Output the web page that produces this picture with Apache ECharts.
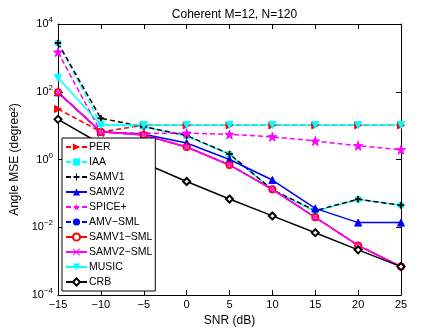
<!DOCTYPE html>
<html><head><meta charset="utf-8">
<script src="https://cdn.jsdelivr.net/npm/echarts@6/dist/echarts.min.js"></script>
<style>html,body{margin:0;padding:0;background:#fff}#c{width:443px;height:332px}</style>
</head><body><div id="c"></div>
<script>
var snr = [-15, -10, -5, 0, 5, 10, 15, 20, 25];
var PER = [31, 6.6, 10.2, 10.2, 10.2, 10.2, 10.2, 10.2, 10.2];
var IAA = [2750, 11, 9.3, 4.9, 1.42, 0.126, 0.029, 0.067, 0.0445];
var SAMV1 = [2750, 16.4, 9.3, 5.1, 1.45, 0.128, 0.031, 0.067, 0.0445];
var SAMV2 = [96, 6.6, 5.6, 3.07, 1.0, 0.248, 0.036, 0.0137, 0.0137];
var SPICEp = [1480, 6.4, 5.9, 6.0, 5.5, 4.7, 3.5, 2.55, 1.95];
var AMV_SML = [96, 6.6, 5.3, 2.34, 0.69, 0.132, 0.0197, 0.0029, 0.00069];
var SAMV1_SML = [96, 6.6, 5.3, 2.34, 0.69, 0.132, 0.0197, 0.0029, 0.00069];
var SAMV2_SML = [96, 6.6, 5.3, 2.34, 0.69, 0.132, 0.0197, 0.0029, 0.00069];
var MUSIC = [258, 10.4, 10.4, 10.4, 10.4, 10.4, 10.4, 10.4, 10.4];
var CRB = [15.3, 2.87, 0.79, 0.224, 0.068, 0.0216, 0.0069, 0.00215, 0.00069];

var FONT = 'Liberation Sans, Arial, sans-serif';
var STAR = 'path://M0,-1 L0.2245,-0.309 L0.951,-0.309 L0.363,0.118 L0.588,0.809 L0,0.382 L-0.588,0.809 L-0.363,0.118 L-0.951,-0.309 L-0.2245,-0.309 Z';
var PLUS = 'path://M-1,-0.15 L-0.15,-0.15 L-0.15,-1 L0.15,-1 L0.15,-0.15 L1,-0.15 L1,0.15 L0.15,0.15 L0.15,1 L-0.15,1 L-0.15,0.15 L-1,0.15 Z';
var XMARK = 'path://M-1,-0.8 L-0.8,-1 L0,-0.2 L0.8,-1 L1,-0.8 L0.2,0 L1,0.8 L0.8,1 L0,0.2 L-0.8,1 L-1,0.8 L-0.2,0 Z';

function pts(arr){ return snr.map(function(x,i){ return [x, arr[i]]; }); }
function mk(name, arr, color, dashed, symbol, size, rot){
  return {
    name: name, type: 'line', data: pts(arr),
    symbol: symbol, symbolSize: size, symbolRotate: rot || 0,
    lineStyle: {color: color, width: 1.5, type: dashed ? [5,3] : 'solid'},
    itemStyle: {color: color, borderColor: color},
    z: 2, animation: false, emphasis: {disabled: true}
  };
}
function expLabel(v){
  var e = Math.round(Math.log10(v));
  return '10{s|' + (e < 0 ? '\u2212' + (-e) : e) + '}';
}
var series = [
  mk('PER', PER, '#ff0000', true, 'triangle', 7, -90),
  mk('IAA', IAA, '#00ffff', true, 'rect', 5, 0),
  mk('SAMV1', SAMV1, '#000000', true, PLUS, 6, 0),
  mk('SAMV2', SAMV2, '#0000ff', false, 'triangle', 7, 0),
  mk('SPICE+', SPICEp, '#ff00ff', true, STAR, 9, 0),
  mk('AMV\u2212SML', AMV_SML, '#0000ff', true, 'circle', 4, 0),
  mk('SAMV1\u2212SML', SAMV1_SML, '#ff0000', false, 'emptyCircle', 6, 0),
  mk('SAMV2\u2212SML', SAMV2_SML, '#ff00ff', false, XMARK, 5, 0),
  mk('MUSIC', MUSIC, '#00ffff', false, 'triangle', 7, 180),
  mk('CRB', CRB, '#000000', false, 'emptyDiamond', 7, 0)
];

var chart = echarts.init(document.getElementById('c'), null, {renderer: 'canvas'});
chart.setOption({
  animation: false,
  backgroundColor: '#fff',
  textStyle: {fontFamily: FONT},
  title: {text: 'Coherent M=12, N=120', left: 229.5, textAlign: 'center', top: 4,
    textStyle: {fontSize: 12, fontWeight: 'normal', color: '#000', fontFamily: FONT}},
  grid: {left: 58, right: 42, top: 24, bottom: 37},
  legend: {
    orient: 'vertical', left: 62, top: 138,
    backgroundColor: '#fff', borderColor: '#000', borderWidth: 1,
    padding: [3, 3, 3, 3], itemWidth: 21, itemHeight: 9, itemGap: 3,
    textStyle: {fontSize: 10.5, color: '#000', fontFamily: FONT, lineHeight: 12, padding: [0,0,0,-3]},
    data: series.map(function(s){ return s.name; })
  },
  xAxis: [{
    type: 'value', min: -15, max: 25, interval: 5,
    name: 'SNR (dB)', nameLocation: 'middle', nameGap: 20,
    nameTextStyle: {fontSize: 12, color: '#000', fontFamily: FONT},
    axisLine: {onZero: false, lineStyle: {color: '#000', width: 1}},
    axisTick: {inside: true, length: 5, lineStyle: {color: '#000'}},
    axisLabel: {fontSize: 11, color: '#000', margin: 4, fontFamily: FONT,
      formatter: function(v){ return String(v).replace('-', '\u2212'); }},
    splitLine: {show: false}
  }, {
    type: 'value', min: -15, max: 25, interval: 5, position: 'top',
    axisLine: {onZero: false, lineStyle: {color: '#000', width: 1}},
    axisTick: {inside: true, length: 5, lineStyle: {color: '#000'}},
    axisLabel: {show: false}, splitLine: {show: false}
  }],
  yAxis: [{
    type: 'log', logBase: 10, min: 1e-4, max: 1e4, interval: 2,
    name: 'Angle MSE (degree\u00b2)', nameLocation: 'middle', nameGap: 21,
    nameTextStyle: {fontSize: 12, color: '#000', fontFamily: FONT},
    axisLine: {onZero: false, lineStyle: {color: '#000', width: 1}},
    axisTick: {inside: true, length: 5, lineStyle: {color: '#000'}},
    minorTick: {show: false},
    axisLabel: {fontSize: 11, color: '#000', margin: 5, fontFamily: FONT,
      formatter: expLabel,
      rich: {s: {fontSize: 8, color: '#000', fontFamily: FONT, padding: [0, 0, 8, 0]}}},
    splitLine: {show: false}
  }, {
    type: 'log', logBase: 10, min: 1e-4, max: 1e4, interval: 2, position: 'right',
    axisLine: {onZero: false, lineStyle: {color: '#000', width: 1}},
    axisTick: {inside: true, length: 5, lineStyle: {color: '#000'}},
    axisLabel: {show: false}, splitLine: {show: false}
  }],
  series: series
});
</script>
</body></html>
